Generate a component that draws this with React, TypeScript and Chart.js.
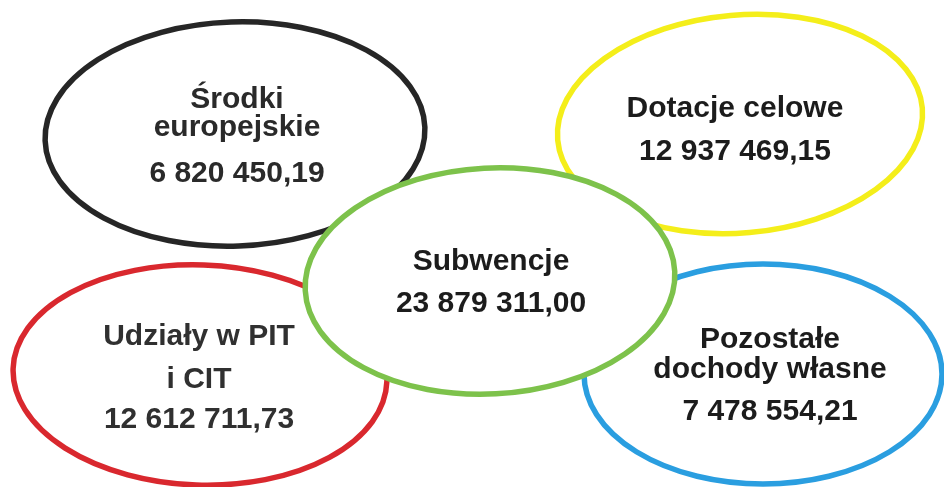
import React, { useEffect, useRef } from "react";
import { Chart, registerables } from "chart.js";

Chart.register(...registerables);

// ---- data ----
const categories: string[][] = [
  ["Środki", "europejskie"],
  ["Dotacje celowe"],
  ["Udziały w PIT", "i CIT"],
  ["Pozostałe", "dochody własne"],
  ["Subwencje"],
];
const amounts: number[] = [6820450.19, 12937469.15, 12612711.73, 7478554.21, 23879311.0];

// ---- layout (chart units on a 0..944 x 0..487 plane) ----
const centerX: number[] = [235, 740, 200, 763, 490];
const centerY: number[] = [134, 124, 375, 374, 281];
const radiusX: number[] = [190, 183, 187, 179, 185];
const radiusY: number[] = [112, 109, 110, 110, 113];
const tiltDeg: number[] = [-2, -5, 2, 0, -3];
// baselines of each text line (label lines followed by the amount line)
const lineBaselines: number[][] = [
  [108, 136, 182],
  [117, 160],
  [345, 388, 428],
  [348, 378, 420],
  [270, 312],
];
const textCx: number[] = [237, 735, 199, 770, 491];

// ---- styles ----
const strokeColors: string[] = ["#262626", "#f4ee1a", "#d9282e", "#2a9ee0", "#7dc24b"];
const textColors: string[] = ["#2a2a2a", "#1c1c1c", "#303030", "#1c1c1c", "#1c1c1c"];

function formatPL(v: number): string {
  const [i, d] = v.toFixed(2).split(".");
  const g = i.replace(/\B(?=(\d{3})+(?!\d))/g, " ");
  return g + "," + d;
}

const ellipsePlugin = {
  id: "ellipses",
  afterDatasetsDraw(chart: any) {
    const ctx = chart.ctx as CanvasRenderingContext2D;
    const xs = chart.scales.x;
    const ys = chart.scales.y;
    const meta = chart.getDatasetMeta(0);
    ctx.save();
    categories.forEach((lines, i) => {
      const el = meta.data[i];
      const cx = el.x;
      const cy = el.y;
      const rx = Math.abs(xs.getPixelForValue(centerX[i] + radiusX[i]) - xs.getPixelForValue(centerX[i]));
      const ry = Math.abs(ys.getPixelForValue(centerY[i] + radiusY[i]) - ys.getPixelForValue(centerY[i]));
      ctx.beginPath();
      ctx.ellipse(cx, cy, rx, ry, (tiltDeg[i] * Math.PI) / 180, 0, Math.PI * 2);
      ctx.fillStyle = "#ffffff";
      ctx.fill();
      ctx.lineWidth = 5.5;
      ctx.strokeStyle = strokeColors[i];
      ctx.stroke();

      ctx.fillStyle = textColors[i];
      ctx.font = "bold 30px 'Liberation Sans', Arial, sans-serif";
      ctx.textAlign = "center";
      ctx.textBaseline = "alphabetic";
      const tx = xs.getPixelForValue(textCx[i]);
      const all = [...lines, formatPL(amounts[i])];
      all.forEach((ln, k) => {
        ctx.fillText(ln, tx, ys.getPixelForValue(lineBaselines[i][k]));
      });
    });
    ctx.restore();
  },
};

export default function App() {
  const ref = useRef<HTMLCanvasElement | null>(null);
  useEffect(() => {
    if (!ref.current) return;
    const chart = new Chart(ref.current, {
      type: "scatter",
      data: {
        labels: categories.map((c) => c.join(" ")),
        datasets: [
          {
            data: centerX.map((x, i) => ({ x, y: centerY[i] })),
            pointRadius: 0,
            pointHoverRadius: 0,
          },
        ],
      },
      options: {
        animation: false,
        responsive: false,
        maintainAspectRatio: false,
        layout: { padding: 0 },
        plugins: { legend: { display: false }, tooltip: { enabled: false } },
        events: [],
        scales: {
          x: { type: "linear", min: 0, max: 944, display: false },
          y: { type: "linear", min: 0, max: 487, reverse: true, display: false },
        },
      },
      plugins: [ellipsePlugin],
    });
    return () => chart.destroy();
  }, []);
  return (
    <div style={{ position: "fixed", left: 0, top: 0, width: 944, height: 487, background: "#fff" }}>
      <canvas ref={ref} width={944} height={487} style={{ width: 944, height: 487, display: "block" }} />
    </div>
  );
}
